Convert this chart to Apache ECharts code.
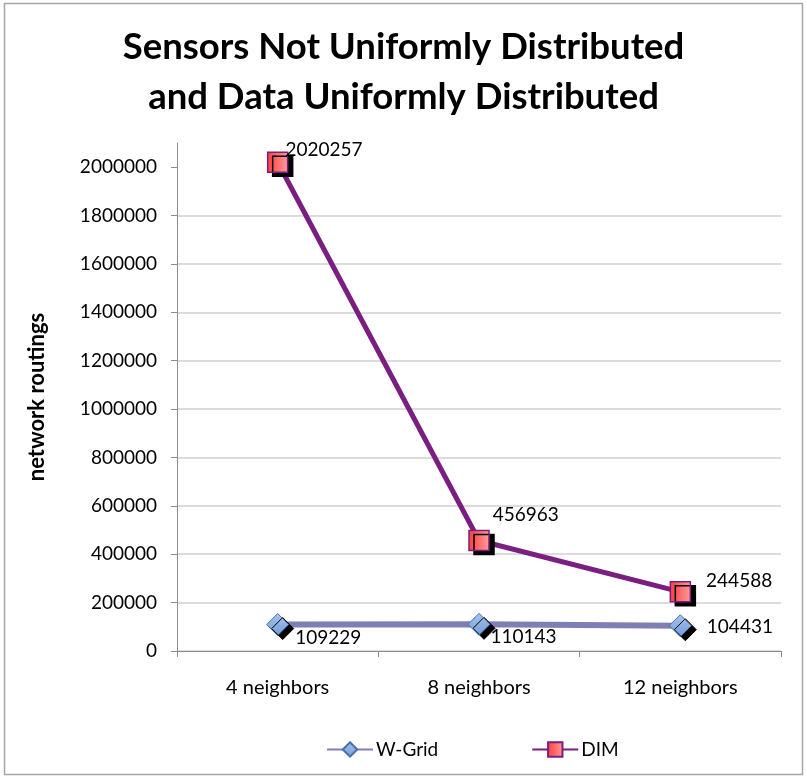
<!DOCTYPE html>
<html>
<head>
<meta charset="utf-8">
<title>Sensors Not Uniformly Distributed and Data Uniformly Distributed</title>
<script src="https://cdn.jsdelivr.net/npm/echarts@6/dist/echarts.min.js"></script>
<style>
  html, body { margin: 0; padding: 0; background: #ffffff; }
  #chart { width: 807px; height: 782px; }
</style>
</head>
<body>
<div id="chart"></div>
<script>
// Categories and series values
var categories = ['4 neighbors', '8 neighbors', '12 neighbors'];
var wGridValues = [109229, 110143, 104431];
var dimValues = [2020257, 456963, 244588];
var yTicks = [0, 200000, 400000, 600000, 800000, 1000000, 1200000, 1400000, 1600000, 1800000, 2000000];

// Where each value label sits relative to its marker
var wGridLabelOffsets = [[1, 13], [-5, 13], [10, 1]];
var dimLabelOffsets = [[-8, -12], [-2, -26], [10, -11]];

var FONT = 'Lato, "Open Sans", sans-serif';

function withLabels(values, offsets) {
  return values.map(function (v, i) {
    return {
      value: v,
      label: { offset: offsets[i] }
    };
  });
}

var chart = echarts.init(document.getElementById('chart'), null, { renderer: 'canvas' });

var shadow = {
  shadowColor: '#000000',
  shadowBlur: 0,
  shadowOffsetX: 5,
  shadowOffsetY: 4
};

chart.setOption({
  animation: false,
  backgroundColor: '#ffffff',
  textStyle: { fontFamily: FONT },
  graphic: [{
    type: 'rect',
    shape: { x: 4.5, y: 3.5, width: 798, height: 771 },
    style: { fill: 'none', stroke: '#a6a6a6', lineWidth: 1.5 },
    z: -1
  }],
  title: {
    text: 'Sensors Not Uniformly Distributed\nand Data Uniformly Distributed',
    left: 'center',
    top: 17,
    textStyle: {
      fontFamily: FONT,
      fontWeight: 'bold',
      fontSize: 36.5,
      lineHeight: 50,
      color: '#000000'
    }
  },
  legend: {
    left: 321,
    top: 735,
    itemWidth: 46,
    itemHeight: 18,
    itemGap: 93,
    textStyle: { fontFamily: FONT, fontSize: 19, color: '#000000', padding: [0, 0, 0, -2] },
    data: [
      { name: 'W-Grid', itemStyle: { shadowColor: 'transparent' } },
      { name: 'DIM', itemStyle: { shadowColor: 'transparent' } }
    ]
  },
  grid: {
    left: 177,
    right: 26,
    top: 143,
    bottom: 131,
    containLabel: false
  },
  xAxis: {
    type: 'category',
    data: categories,
    boundaryGap: true,
    axisLine: { lineStyle: { color: '#8c8c8c', width: 1 } },
    axisTick: { show: true, length: 6, lineStyle: { color: '#8c8c8c' } },
    axisLabel: { fontFamily: FONT, fontSize: 20, color: '#000000', margin: 27 },
    splitLine: { show: false }
  },
  yAxis: {
    type: 'value',
    min: 0,
    max: 2100000,
    interval: 200000,
    name: 'network routings',
    nameLocation: 'middle',
    nameRotate: 90,
    nameGap: 129,
    nameTextStyle: { fontFamily: FONT, fontWeight: 'bold', fontSize: 22, color: '#000000' },
    axisLine: { show: true, lineStyle: { color: '#8c8c8c', width: 1 } },
    axisTick: { show: true, length: 6, lineStyle: { color: '#8c8c8c' }, customValues: yTicks },
    axisLabel: {
      fontFamily: FONT, fontSize: 19, color: '#000000', margin: 20,
      customValues: yTicks,
      formatter: function (v) { return String(v); }
    },
    splitLine: { show: true, showMaxLine: false, lineStyle: { color: '#d0d0d0', width: 1.5 } }
  },
  series: [
    {
      name: 'W-Grid',
      type: 'line',
      data: withLabels(wGridValues, wGridLabelOffsets),
      symbol: 'diamond',
      symbolSize: 22,
      lineStyle: { color: '#7f7fb8', width: 6 },
      itemStyle: Object.assign({
        color: {
          type: 'linear', x: 0, y: 0, x2: 0, y2: 1,
          colorStops: [
            { offset: 0, color: '#a9c6ee' },
            { offset: 1, color: '#6f9ad8' }
          ]
        },
        borderColor: '#4a6db0',
        borderWidth: 1
      }, shadow),
      label: {
        show: true,
        position: 'right',
        fontFamily: FONT,
        fontSize: 19,
        color: '#000000'
      },
      z: 2
    },
    {
      name: 'DIM',
      type: 'line',
      data: withLabels(dimValues, dimLabelOffsets),
      symbol: 'rect',
      symbolSize: 20,
      lineStyle: { color: '#7b1e82', width: 5 },
      itemStyle: Object.assign({
        color: {
          type: 'linear', x: 0, y: 0, x2: 1, y2: 0,
          colorStops: [
            { offset: 0, color: '#ff3c3c' },
            { offset: 1, color: '#ff9c9c' }
          ]
        },
        borderColor: '#7b1e82',
        borderWidth: 1.5
      }, shadow),
      label: {
        show: true,
        position: 'right',
        fontFamily: FONT,
        fontSize: 19,
        color: '#000000'
      },
      z: 3
    }
  ]
});
</script>
</body>
</html>
